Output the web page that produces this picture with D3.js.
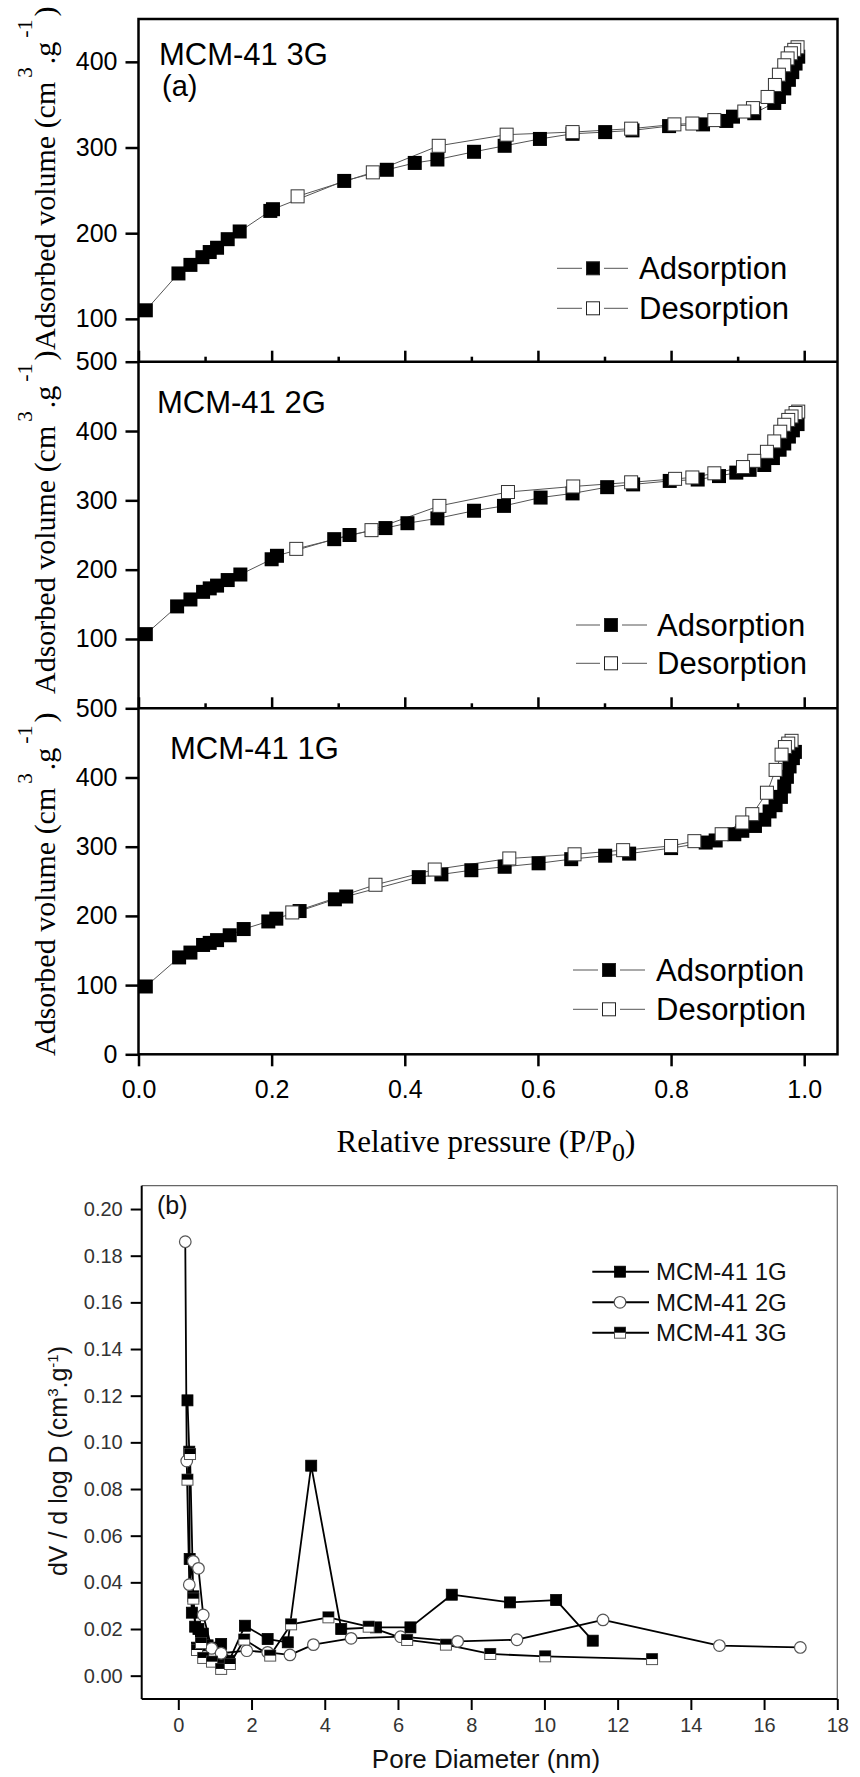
<!DOCTYPE html>
<html>
<head>
<meta charset="utf-8">
<script src="https://cdn.jsdelivr.net/npm/d3@7"></script>
<style>
body { margin: 0; background: #fff; }
svg { display: block; }
.sans { font-family: "Liberation Sans", Arial, sans-serif; }
.serif { font-family: "Liberation Serif", "Times New Roman", serif; }
</style>
</head>
<body>
<svg width="860" height="1777"></svg>
<script>
// ---- (a) isotherms: relative pressure P/P0 vs adsorbed volume (cm3/g)
const ads3G_p = [0.011, 0.060, 0.078, 0.096, 0.107, 0.118, 0.134, 0.152, 0.198, 0.202, 0.309, 0.373, 0.415, 0.449, 0.504, 0.550, 0.603, 0.652, 0.701, 0.742, 0.797, 0.848, 0.883, 0.893, 0.925, 0.955, 0.962, 0.970, 0.977, 0.982, 0.987, 0.991];
const ads3G_v = [110, 153, 163, 172, 178, 183, 193, 202, 226, 228, 261, 274, 282, 286, 295, 302, 310, 316, 318, 320, 325, 327, 331, 336, 340, 352, 359, 369, 379, 388, 398, 406];
const des3G_p = [0.990, 0.985, 0.980, 0.975, 0.970, 0.962, 0.956, 0.945, 0.923, 0.910, 0.865, 0.832, 0.805, 0.740, 0.652, 0.553, 0.451, 0.352, 0.239];
const des3G_v = [417, 414, 410, 404, 396, 385, 373, 359, 346, 342, 332, 328, 327, 322, 318, 315, 302, 271, 243];

const ads2G_p = [0.011, 0.058, 0.078, 0.097, 0.107, 0.118, 0.134, 0.153, 0.200, 0.208, 0.294, 0.317, 0.371, 0.404, 0.449, 0.504, 0.549, 0.604, 0.652, 0.704, 0.743, 0.798, 0.840, 0.872, 0.898, 0.918, 0.940, 0.953, 0.963, 0.970, 0.977, 0.983, 0.990];
const ads2G_v = [107, 147, 157, 168, 173, 177, 185, 193, 215, 220, 244, 250, 260, 267, 274, 285, 292, 304, 310, 319, 323, 328, 330, 335, 340, 344, 351, 361, 373, 382, 392, 401, 410];
const des2G_p = [0.991, 0.987, 0.981, 0.976, 0.970, 0.964, 0.955, 0.944, 0.925, 0.908, 0.865, 0.832, 0.806, 0.740, 0.653, 0.555, 0.452, 0.350, 0.237];
const des2G_v = [428, 426, 421, 416, 409, 399, 385, 370, 357, 348, 339, 333, 331, 326, 320, 312, 292, 257, 230];

const ads1G_p = [0.011, 0.061, 0.078, 0.097, 0.107, 0.118, 0.137, 0.158, 0.195, 0.207, 0.242, 0.295, 0.312, 0.421, 0.455, 0.500, 0.550, 0.601, 0.650, 0.701, 0.737, 0.800, 0.852, 0.867, 0.895, 0.907, 0.926, 0.940, 0.948, 0.957, 0.965, 0.970, 0.974, 0.978, 0.983, 0.986];
const ads1G_v = [98, 140, 147, 158, 161, 165, 172, 181, 192, 196, 207, 224, 228, 256, 260, 266, 271, 276, 282, 287, 290, 298, 306, 309, 318, 323, 330, 339, 351, 360, 372, 387, 401, 416, 428, 437];
const des1G_p = [0.981, 0.976, 0.971, 0.966, 0.957, 0.944, 0.922, 0.907, 0.876, 0.835, 0.800, 0.728, 0.655, 0.557, 0.445, 0.356, 0.231];
const des1G_v = [453, 449, 444, 433, 411, 378, 347, 335, 318, 308, 301, 295, 289, 283, 267, 245, 205];

const pressTicks = [0, 0.2, 0.4, 0.6, 0.8, 1.0];
const pressMinor = [0.1, 0.3, 0.5, 0.7, 0.9];

// ---- (b) pore size distribution: pore diameter (nm) vs dV/dlogD
const psd1G_d = [0.25, 0.30, 0.31, 0.37, 0.41, 0.46, 0.51, 0.55, 0.67, 0.80, 1.05, 1.17, 1.20, 1.39, 1.82, 2.44, 2.99, 3.63, 4.45, 5.40, 6.34, 7.47, 9.06, 10.32, 11.32];
const psd1G_v = [0.118, 0.096, 0.050, 0.027, 0.034, 0.021, 0.012, 0.020, 0.018, 0.013, 0.012, 0.0136, 0.0066, 0.0064, 0.0214, 0.0157, 0.0143, 0.090, 0.020, 0.0207, 0.0207, 0.0347, 0.0314, 0.0324, 0.015];
const psd2G_d = [0.19, 0.23, 0.30, 0.41, 0.55, 0.68, 0.91, 1.17, 1.87, 2.44, 3.05, 3.69, 4.72, 6.07, 7.63, 9.25, 11.6, 14.78, 16.99];
const psd2G_v = [0.186, 0.092, 0.039, 0.049, 0.046, 0.026, 0.0117, 0.0096, 0.0107, 0.010, 0.0089, 0.0133, 0.016, 0.0167, 0.0147, 0.0154, 0.0239, 0.0129, 0.0121];
const psd3G_d = [0.25, 0.32, 0.41, 0.51, 0.62, 0.68, 0.92, 1.17, 1.41, 1.80, 2.51, 3.08, 4.10, 5.20, 6.25, 7.31, 8.52, 10.02, 12.94];
const psd3G_v = [0.084, 0.095, 0.033, 0.011, 0.014, 0.0076, 0.006, 0.0029, 0.005, 0.0155, 0.0086, 0.022, 0.025, 0.021, 0.0153, 0.0133, 0.0093, 0.0083, 0.0071];

const poreTicks = [0, 2, 4, 6, 8, 10, 12, 14, 16, 18];
const dvTicks = [0, 0.02, 0.04, 0.06, 0.08, 0.10, 0.12, 0.14, 0.16, 0.18, 0.20];
const psdNames = ["MCM-41 1G", "MCM-41 2G", "MCM-41 3G"];

const svg = d3.select("svg");

// ================= (a) =================
const aLeft = 138.5, aRight = 837.5;
const xP = d3.scaleLinear().domain([0, 1.05]).range([aLeft, aRight]);

const panels = [
  { name: "MCM-41 3G", ads: [ads3G_p, ads3G_v], des: [des3G_p, des3G_v], domain: [50, 450], top: 19, bottom: 361.7,
    ticks: [100, 200, 300, 400], nameY: 65, nameX: 159, titleY: 350, leg: { x0: 557, mx: 593, x1: 628, tx: 639, y0: 268.3, y1: 308.3 } },
  { name: "MCM-41 2G", ads: [ads2G_p, ads2G_v], des: [des2G_p, des2G_v], domain: [0, 500], top: 361.7, bottom: 708.3,
    ticks: [100, 200, 300, 400, 500], nameY: 413, nameX: 157, titleY: 694, leg: { x0: 576, mx: 611, x1: 647, tx: 657, y0: 625, y1: 663.3 } },
  { name: "MCM-41 1G", ads: [ads1G_p, ads1G_v], des: [des1G_p, des1G_v], domain: [0, 500], top: 708.3, bottom: 1054.3,
    ticks: [0, 100, 200, 300, 400, 500], nameY: 759, nameX: 170, titleY: 1056, leg: { x0: 573, mx: 609, x1: 645, tx: 656, y0: 970, y1: 1009.3 } }
];

const ms = 14; // marker size
const lineA = d3.line().x(d => xP(d[0]));

panels.forEach((p, i) => {
  const y = d3.scaleLinear().domain(p.domain).range([p.bottom, p.top]);
  const g = svg.append("g");

  // y axis
  const ya = g.append("g").attr("transform", `translate(${aLeft},0)`)
    .call(d3.axisLeft(y).tickValues(p.ticks).tickSize(13).tickPadding(8).tickFormat(d3.format("d")));
  ya.select(".domain").remove();
  ya.selectAll("line").attr("stroke", "#000").attr("stroke-width", 2.5);
  ya.selectAll("text").attr("class", "sans").attr("font-size", 25).attr("fill", "#000");

  // bottom ticks
  if (i < 2) {
    const xa = g.append("g").attr("transform", `translate(0,${p.bottom})`)
      .call(d3.axisTop(xP).tickValues(pressTicks).tickSize(11).tickFormat(""));
    xa.select(".domain").remove();
    xa.selectAll("line").attr("stroke", "#000").attr("stroke-width", 2.5);
    const xm = g.append("g").attr("transform", `translate(0,${p.bottom})`)
      .call(d3.axisTop(xP).tickValues(pressMinor).tickSize(5).tickFormat(""));
    xm.select(".domain").remove();
    xm.selectAll("line").attr("stroke", "#000").attr("stroke-width", 2.5);
  } else {
    const xa = g.append("g").attr("transform", `translate(0,${p.bottom})`)
      .call(d3.axisBottom(xP).tickValues(pressTicks).tickSize(12).tickPadding(14).tickFormat(d3.format(".1f")));
    xa.select(".domain").remove();
    xa.selectAll("line").attr("stroke", "#000").attr("stroke-width", 2.5);
    xa.selectAll("text").attr("class", "sans").attr("font-size", 25).attr("fill", "#000");
  }

  // data
  const ads = d3.zip(p.ads[0], p.ads[1]);
  const des = d3.zip(p.des[0], p.des[1]);
  const line = lineA.y(d => y(d[1]));
  g.append("path").attr("d", line(ads)).attr("fill", "none").attr("stroke", "#555").attr("stroke-width", 1);
  g.append("path").attr("d", line(des)).attr("fill", "none").attr("stroke", "#555").attr("stroke-width", 1);
  g.selectAll(".ads").data(ads).join("rect")
    .attr("x", d => xP(d[0]) - ms / 2).attr("y", d => y(d[1]) - ms / 2)
    .attr("width", ms).attr("height", ms).attr("fill", "#000");
  g.selectAll(".des").data(des).join("rect")
    .attr("x", d => xP(d[0]) - ms / 2 + 0.5).attr("y", d => y(d[1]) - ms / 2 + 0.5)
    .attr("width", ms - 1).attr("height", ms - 1).attr("fill", "#fff").attr("stroke", "#333").attr("stroke-width", 1);

  // sample label
  g.append("text").attr("class", "sans").attr("x", p.nameX).attr("y", p.nameY)
    .attr("font-size", 31).text(p.name);
  if (i === 0) {
    g.append("text").attr("class", "sans").attr("x", 162).attr("y", 96).attr("font-size", 29).text("(a)");
  }

  // legend
  const L = p.leg;
  [[L.y0, "Adsorption", "#000"], [L.y1, "Desorption", "#fff"]].forEach(([ly, label, fill]) => {
    g.append("line").attr("x1", L.x0).attr("x2", L.mx - ms / 2 - 4).attr("y1", ly).attr("y2", ly)
      .attr("stroke", "#555").attr("stroke-width", 1);
    g.append("line").attr("x1", L.mx + ms / 2 + 4).attr("x2", L.x1).attr("y1", ly).attr("y2", ly)
      .attr("stroke", "#555").attr("stroke-width", 1);
    g.append("rect").attr("x", L.mx - ms / 2 + 0.5).attr("y", ly - ms / 2 + 0.5).attr("width", ms - 1).attr("height", ms - 1)
      .attr("fill", fill).attr("stroke", "#222").attr("stroke-width", 1);
    g.append("text").attr("class", "sans").attr("x", L.tx).attr("y", ly + 10.5).attr("font-size", 31).text(label);
  });

  // y title
  const t = g.append("text").attr("class", "serif").attr("font-size", 30)
    .attr("transform", `translate(55,${p.titleY}) rotate(-90)`);
  t.append("tspan").text("Adsorbed volume (cm");
  t.append("tspan").attr("font-size", 21).attr("dy", -23).attr("dx", 4).text("3");
  t.append("tspan").attr("dy", 23).attr("dx", 3).text(".g");
  t.append("tspan").attr("font-size", 22).attr("dy", -23).attr("dx", 4).text("-1");
  t.append("tspan").attr("dy", 23).attr("dx", 3).text(")");
});

// frame of (a)
svg.append("rect").attr("x", aLeft).attr("y", 19).attr("width", aRight - aLeft).attr("height", 1054.3 - 19)
  .attr("fill", "none").attr("stroke", "#000").attr("stroke-width", 2.5);
[361.7, 708.3].forEach(yy => svg.append("line").attr("x1", aLeft).attr("x2", aRight).attr("y1", yy).attr("y2", yy)
  .attr("stroke", "#000").attr("stroke-width", 2.5));

// x title (a)
const xt = svg.append("text").attr("class", "serif").attr("x", 486).attr("y", 1151.7)
  .attr("text-anchor", "middle").attr("font-size", 31);
xt.append("tspan").text("Relative pressure (P/P");
xt.append("tspan").attr("font-size", 26).attr("dy", 9).text("0");
xt.append("tspan").attr("dy", -9).text(")");

// ================= (b) =================
const bL = 141.7, bR = 837.3, bT = 1185.7, bB = 1699;
const xD = d3.scaleLinear().domain([-1, 18]).range([bL, bR]);
const yD = d3.scaleLinear().domain([-0.01, 0.21]).range([bB, bT]);
const gb = svg.append("g");

gb.append("line").attr("x1", bL).attr("x2", bR).attr("y1", bT).attr("y2", bT).attr("stroke", "#666").attr("stroke-width", 1.2);
gb.append("line").attr("x1", bR).attr("x2", bR).attr("y1", bT).attr("y2", bB).attr("stroke", "#666").attr("stroke-width", 1.2);

const byA = gb.append("g").attr("transform", `translate(${bL},0)`)
  .call(d3.axisLeft(yD).tickValues(dvTicks).tickSize(11).tickPadding(8).tickFormat(d3.format(".2f")));
byA.select(".domain").attr("stroke", "#000").attr("stroke-width", 2).attr("d", `M0,${bT}V${bB}`);
byA.selectAll("line").attr("stroke", "#000").attr("stroke-width", 2);
byA.selectAll("text").attr("class", "sans").attr("font-size", 20).attr("fill", "#333");

const bxA = gb.append("g").attr("transform", `translate(0,${bB})`)
  .call(d3.axisBottom(xD).tickValues(poreTicks).tickSize(11).tickPadding(7.5).tickFormat(d3.format("d")));
bxA.select(".domain").attr("stroke", "#000").attr("stroke-width", 2).attr("d", `M${bL},0H${bR}`);
bxA.selectAll("line").attr("stroke", "#000").attr("stroke-width", 2);
bxA.selectAll("text").attr("class", "sans").attr("font-size", 20).attr("fill", "#333");

const lineB = d3.line().x(d => xD(d[0])).y(d => yD(d[1]));
const s1 = d3.zip(psd1G_d, psd1G_v), s2 = d3.zip(psd2G_d, psd2G_v), s3 = d3.zip(psd3G_d, psd3G_v);
[s1, s2, s3].forEach(s => gb.append("path").attr("d", lineB(s)).attr("fill", "none")
  .attr("stroke", "#000").attr("stroke-width", 1.8).attr("stroke-linejoin", "round"));

const mb = 11;
function sq(g, cx, cy) {
  g.append("rect").attr("x", cx - mb / 2).attr("y", cy - mb / 2).attr("width", mb).attr("height", mb)
    .attr("fill", "#000").attr("stroke", "#000").attr("stroke-width", 0.8);
}
function circ(g, cx, cy) {
  g.append("circle").attr("cx", cx).attr("cy", cy).attr("r", 5.8)
    .attr("fill", "#fff").attr("stroke", "#555").attr("stroke-width", 1.2);
}
function half(g, cx, cy) {
  g.append("rect").attr("x", cx - mb / 2).attr("y", cy - mb / 2).attr("width", mb).attr("height", mb)
    .attr("fill", "#fff").attr("stroke", "#555").attr("stroke-width", 1);
  g.append("rect").attr("x", cx - mb / 2).attr("y", cy - mb / 2).attr("width", mb).attr("height", mb / 2)
    .attr("fill", "#000");
}
s1.forEach(d => sq(gb, xD(d[0]), yD(d[1])));
s2.forEach(d => circ(gb, xD(d[0]), yD(d[1])));
s3.forEach(d => half(gb, xD(d[0]), yD(d[1])));

// legend (b)
const markers = [sq, circ, half];
[1271.7, 1302.3, 1332.7].forEach((ly, k) => {
  gb.append("line").attr("x1", 592.3).attr("x2", 649).attr("y1", ly).attr("y2", ly).attr("stroke", "#000").attr("stroke-width", 2);
  markers[k](gb, 620, ly);
  gb.append("text").attr("class", "sans").attr("x", 656).attr("y", ly + 8.5).attr("font-size", 24).attr("fill", "#111").text(psdNames[k]);
});

gb.append("text").attr("class", "sans").attr("x", 157).attr("y", 1214).attr("font-size", 25).attr("fill", "#111").text("(b)");

const bt = gb.append("text").attr("class", "sans").attr("font-size", 25).attr("fill", "#111")
  .attr("text-anchor", "middle").attr("transform", `translate(67,1461) rotate(-90)`);
bt.append("tspan").text("dV / d log D (cm");
bt.append("tspan").attr("font-size", 15).attr("dy", -9).text("3");
bt.append("tspan").attr("dy", 9).text(".g");
bt.append("tspan").attr("font-size", 15).attr("dy", -9).text("-1");
bt.append("tspan").attr("dy", 9).text(")");

gb.append("text").attr("class", "sans").attr("x", 486).attr("y", 1768).attr("text-anchor", "middle")
  .attr("font-size", 26).attr("fill", "#111").text("Pore Diameter (nm)");
</script>
</body>
</html>
